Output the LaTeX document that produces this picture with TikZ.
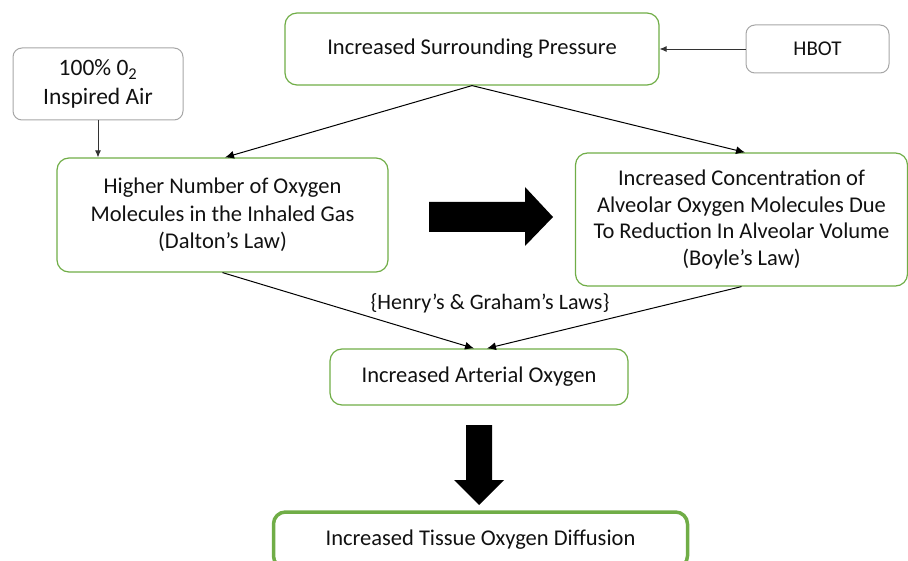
\documentclass[tikz,border=0pt]{standalone}
\usepackage{fontspec}
\setmainfont{Carlito}
\usetikzlibrary{arrows.meta}
\definecolor{boxgreen}{HTML}{70AD47}
\definecolor{boxgray}{HTML}{A6A6A6}
\definecolor{txt}{HTML}{111111}
\tikzset{
  greenbox/.style={draw=boxgreen, line width=1.2pt, rounded corners=12pt, align=center, text=txt, font=\fontsize{22.5}{26.5}\selectfont, inner sep=0pt},
  graybox/.style={draw=boxgray, line width=1pt, rounded corners=9pt, align=center, text=txt, font=\fontsize{22.5}{26.5}\selectfont, inner sep=0pt},
  conn/.style={draw=black, line width=1pt, -{Latex[length=9pt,width=8pt]}},
  thinconn/.style={draw=black!80, line width=0.8pt, -{Latex[length=7pt,width=6pt]}},
  bigarrow/.style={fill=black, draw=none}
}
\begin{document}
\begin{tikzpicture}[x=1pt,y=-1pt]
\useasboundingbox (0,0) rectangle (908,561);
\clip (0,0) rectangle (908,561);
\node[greenbox, minimum width=374pt, minimum height=72pt] (top) at (472,49) {Increased Surrounding Pressure};
\node[graybox, font=\fontsize{21}{25}\selectfont, minimum width=143pt, minimum height=48pt] (hbot) at (817.5,49) {HBOT};
\node[graybox, font=\fontsize{23.5}{29}\selectfont, minimum width=170pt, minimum height=72pt] (o2) at (98,84) {100\% 0\textsubscript{2}\\Inspired Air};
\node[greenbox, font=\fontsize{22.5}{27.5}\selectfont, minimum width=331pt, minimum height=114pt] (left) at (222.5,215) {Higher Number of Oxygen\\Molecules in the Inhaled Gas\\(Dalton’s Law)};
\node[greenbox, minimum width=332pt, minimum height=133pt] (right) at (741.5,219.5) {Increased Concentration of\\Alveolar Oxygen Molecules Due\\To Reduction In Alveolar Volume\\(Boyle’s Law)};
\node[greenbox, minimum width=298pt, minimum height=56pt] (art) at (479,377) {Increased Arterial Oxygen};
\node[greenbox, line width=3.5pt, minimum width=414pt, minimum height=56pt] (tissue) at (480.5,540) {Increased Tissue Oxygen Diffusion};
\node[text=txt, font=\fontsize{22}{26}\selectfont] (laws) at (490,303) {\{Henry’s \& Graham’s Laws\}};
\draw[thinconn] (hbot.west) -- (top.east);
\draw[thinconn] (o2.south) -- (o2.south |- left.north);
\draw[conn] (top.south) -- ([xshift=2.5pt]left.north);
\draw[conn] (top.south) -- ([xshift=3.5pt]right.north);
\draw[conn] (left.south) -- ([xshift=-5pt]art.north);
\draw[conn] (right.south) -- ([xshift=8pt]art.north);
\fill[bigarrow] (429,202) -- (525,202) -- (525,187) -- (553,217) -- (525,246) -- (525,232) -- (429,232) -- cycle;
\fill[bigarrow] (466,425) -- (492,425) -- (492,480) -- (504,480) -- (479,505) -- (454,480) -- (466,480) -- cycle;
\end{tikzpicture}
\end{document}
